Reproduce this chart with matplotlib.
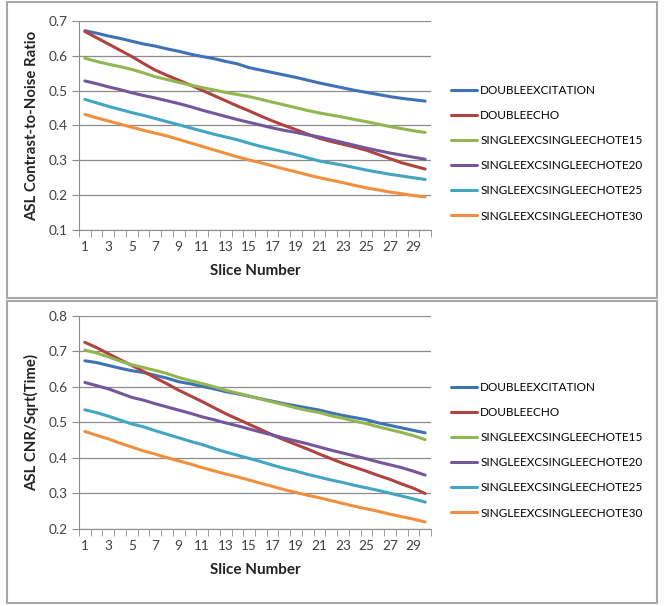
import numpy as np
import matplotlib.pyplot as plt
from matplotlib.patches import Rectangle

slices = np.arange(1, 31)
names = ['DOUBLEEXCITATION', 'DOUBLEECHO', 'SINGLEEXCSINGLEECHOTE15',
         'SINGLEEXCSINGLEECHOTE20', 'SINGLEEXCSINGLEECHOTE25', 'SINGLEEXCSINGLEECHOTE30']
colors = ['#3F72B5', '#B0433F', '#93B650', '#74579A', '#43A5C2', '#F0903E']

# top panel: ASL contrast-to-noise ratio
cnr_double_exc = [0.672, 0.665, 0.657, 0.650, 0.642, 0.634, 0.628, 0.620, 0.613, 0.605,
                  0.598, 0.592, 0.584, 0.577, 0.566, 0.559, 0.552, 0.545, 0.538, 0.530,
                  0.522, 0.515, 0.508, 0.501, 0.495, 0.489, 0.483, 0.478, 0.474, 0.470]
cnr_double_echo = [0.670, 0.652, 0.634, 0.616, 0.598, 0.578, 0.559, 0.544, 0.530, 0.516,
                   0.501, 0.486, 0.471, 0.456, 0.442, 0.427, 0.413, 0.400, 0.388, 0.375,
                   0.363, 0.354, 0.346, 0.338, 0.329, 0.317, 0.305, 0.293, 0.284, 0.275]
cnr_te15 = [0.593, 0.584, 0.576, 0.569, 0.561, 0.551, 0.540, 0.532, 0.524, 0.516,
            0.509, 0.502, 0.495, 0.489, 0.483, 0.475, 0.467, 0.459, 0.451, 0.443,
            0.436, 0.430, 0.424, 0.417, 0.411, 0.404, 0.397, 0.391, 0.385, 0.380]
cnr_te20 = [0.528, 0.520, 0.511, 0.503, 0.494, 0.486, 0.479, 0.471, 0.463, 0.454,
            0.444, 0.435, 0.426, 0.417, 0.409, 0.401, 0.393, 0.386, 0.380, 0.373,
            0.367, 0.359, 0.351, 0.343, 0.335, 0.328, 0.321, 0.315, 0.309, 0.303]
cnr_te25 = [0.475, 0.465, 0.455, 0.446, 0.437, 0.429, 0.420, 0.411, 0.402, 0.393,
            0.384, 0.375, 0.367, 0.359, 0.349, 0.340, 0.332, 0.324, 0.316, 0.307,
            0.298, 0.292, 0.286, 0.279, 0.272, 0.266, 0.260, 0.255, 0.250, 0.245]
cnr_te30 = [0.432, 0.422, 0.413, 0.404, 0.395, 0.386, 0.378, 0.370, 0.360, 0.350,
            0.340, 0.330, 0.320, 0.310, 0.301, 0.293, 0.284, 0.275, 0.267, 0.258,
            0.250, 0.243, 0.236, 0.228, 0.221, 0.215, 0.209, 0.204, 0.199, 0.195]

# bottom panel: CNR / sqrt(time)
eff_double_exc = [0.673, 0.668, 0.660, 0.652, 0.645, 0.640, 0.632, 0.624, 0.614, 0.608,
                  0.601, 0.594, 0.586, 0.580, 0.573, 0.566, 0.559, 0.552, 0.546, 0.540,
                  0.534, 0.526, 0.519, 0.513, 0.507, 0.498, 0.491, 0.484, 0.477, 0.470]
eff_double_echo = [0.725, 0.710, 0.693, 0.676, 0.660, 0.643, 0.625, 0.608, 0.590, 0.574,
                   0.558, 0.541, 0.524, 0.509, 0.494, 0.479, 0.464, 0.450, 0.437, 0.424,
                   0.410, 0.397, 0.384, 0.373, 0.362, 0.350, 0.339, 0.326, 0.314, 0.299]
eff_te15 = [0.703, 0.695, 0.684, 0.672, 0.662, 0.654, 0.646, 0.637, 0.626, 0.617,
            0.609, 0.600, 0.590, 0.582, 0.574, 0.565, 0.557, 0.549, 0.540, 0.533,
            0.527, 0.518, 0.511, 0.503, 0.496, 0.487, 0.479, 0.471, 0.462, 0.451]
eff_te20 = [0.612, 0.603, 0.594, 0.582, 0.570, 0.562, 0.552, 0.543, 0.534, 0.525,
            0.515, 0.507, 0.498, 0.490, 0.481, 0.472, 0.464, 0.455, 0.447, 0.439,
            0.430, 0.421, 0.413, 0.405, 0.397, 0.388, 0.380, 0.372, 0.362, 0.351]
eff_te25 = [0.535, 0.527, 0.517, 0.506, 0.495, 0.487, 0.476, 0.466, 0.456, 0.446,
            0.437, 0.426, 0.416, 0.407, 0.398, 0.389, 0.379, 0.370, 0.362, 0.353,
            0.345, 0.337, 0.330, 0.322, 0.315, 0.308, 0.300, 0.292, 0.284, 0.275]
eff_te30 = [0.474, 0.463, 0.453, 0.441, 0.430, 0.419, 0.410, 0.400, 0.391, 0.382,
            0.372, 0.363, 0.354, 0.346, 0.337, 0.328, 0.319, 0.310, 0.302, 0.294,
            0.287, 0.279, 0.271, 0.263, 0.256, 0.249, 0.241, 0.234, 0.227, 0.219]

top_series = [cnr_double_exc, cnr_double_echo, cnr_te15, cnr_te20, cnr_te25, cnr_te30]
bottom_series = [eff_double_exc, eff_double_echo, eff_te15, eff_te20, eff_te25, eff_te30]

plt.rcParams['font.family'] = ['Lato', 'DejaVu Sans']
W, H = 665, 606
fig = plt.figure(figsize=(W / 100, H / 100), dpi=100)

# panel frames (pixel coords -> figure fraction)
for (x0, y0, x1, y1) in [(7, 2, 657, 298), (7, 301, 657, 603)]:
    fig.patches.append(Rectangle((x0 / W, 1 - y1 / H), (x1 - x0) / W, (y1 - y0) / H,
                                 transform=fig.transFigure, fill=False,
                                 edgecolor='#a8a8a8', lw=1.5))


def panel(rect, series, ylim, ylabel, legend_top):
    ax = fig.add_axes(rect)
    for vals, c, n in zip(series, colors, names):
        ax.plot(slices, vals, color=c, lw=2.2, label=n, solid_capstyle='round')
    ax.set_xlim(0.5, 30.5)
    ax.set_ylim(*ylim)
    ax.set_yticks(np.round(np.arange(ylim[0], ylim[1] + 0.001, 0.1), 1))
    ax.yaxis.grid(True, color='#8c8c8c', lw=0.9)
    ax.set_axisbelow(True)
    ax.set_xticks(np.arange(1, 31, 2))
    ax.set_xticks(np.arange(0.5, 31, 1), minor=True)
    ax.tick_params(axis='x', which='major', length=0, pad=8, labelsize=9.8, colors='#404040')
    ax.tick_params(axis='x', which='minor', length=5, color='#8c8c8c', direction='out')
    ax.tick_params(axis='y', length=5, color='#8c8c8c', labelsize=9.8, colors='#404040', pad=3)
    for s in ['top', 'right']:
        ax.spines[s].set_visible(False)
    for s in ['left', 'bottom']:
        ax.spines[s].set_color('#8c8c8c')
    ax.set_xlabel('Slice Number', fontsize=11, fontweight='bold', labelpad=8, color='#222222')
    ax.set_ylabel(ylabel, fontsize=10.7, fontweight='bold', labelpad=7, color='#222222')
    ax.legend(loc='upper left', bbox_to_anchor=(446 / W, 1 - legend_top / H),
              bbox_transform=fig.transFigure, frameon=False, fontsize=8.5,
              handlelength=2.25, handletextpad=0.25, labelspacing=1.2, borderaxespad=0)
    return ax


panel([79 / W, 1 - 230 / H, 352 / W, 209 / H], top_series, (0.1, 0.7),
      'ASL Contrast-to-Noise Ratio', 80)
panel([79 / W, 1 - 528.7 / H, 352 / W, 213 / H], bottom_series, (0.2, 0.8),
      'ASL CNR/Sqrt(Time)', 377)

fig.savefig('out.png', dpi=100)
